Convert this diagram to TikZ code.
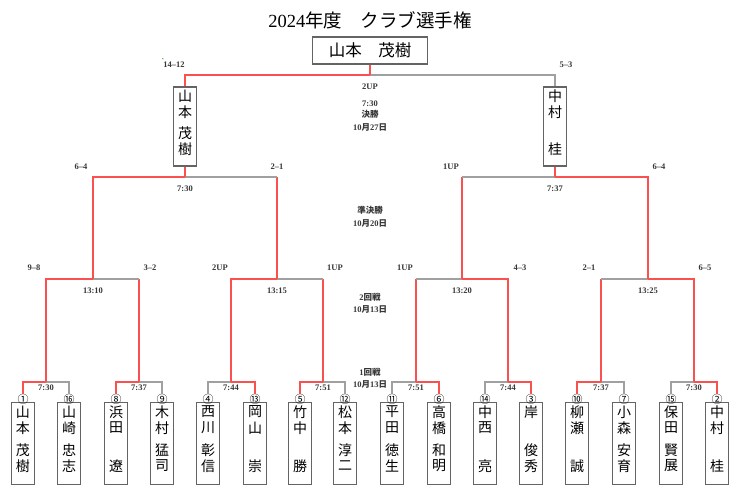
\documentclass[tikz,border=0pt]{standalone}
\usepackage{fontspec}
\setmainfont{Liberation Serif}
\newfontfamily\cjk{Noto Sans CJK JP}
\definecolor{winred}{RGB}{250,80,80}
\definecolor{losegray}{RGB}{160,160,160}
\definecolor{boxgray}{RGB}{100,100,100}
\definecolor{txt}{RGB}{55,55,55}
\begin{document}
\begin{tikzpicture}[x=1pt,y=-1pt,
  win/.style={draw=winred,line width=1.2pt},
  lose/.style={draw=losegray,line width=1.2pt},
  namebox/.style={draw=boxgray,line width=1.2pt,minimum width=23pt,minimum height=82pt,inner sep=0pt},
  finbox/.style={draw=boxgray,line width=1.2pt,minimum width=23pt,minimum height=79pt,inner sep=0pt},
  champbox/.style={draw=boxgray,line width=1.2pt,minimum width=115pt,minimum height=27pt,inner sep=0pt,font=\cjk\fontsize{16.5}{17}\selectfont},
  ch/.style={font=\cjk\fontsize{14}{14}\selectfont,text=black,inner sep=0pt},
  circ/.style={font=\cjk\fontsize{11}{11}\selectfont,text=black,inner sep=0pt,minimum height=9pt},
  lbl/.style={font=\bfseries\fontsize{8.5}{9}\selectfont,text=txt,inner sep=0pt},
  titlestyle/.style={font=\fontsize{18.5}{20}\selectfont,text=black,inner sep=0pt}
]
\useasboundingbox (0,0) rectangle (750,495);

% title and champion
\node[titlestyle] (title) at (370,20) {2024{\cjk 年度　クラブ選手権}};
\node[champbox] (champ) at (370,50.5) {山本　茂樹};
\draw[green!60!black,line width=0.8pt] (162.5,58.3) -- (163.3,59.2);

% first round players
\foreach \i/\px/\num/\a/\b/\c/\d in {
  0/23/①/山/本/茂/樹, 1/69/⑯/山/崎/忠/志, 2/116/⑧/浜/田//遼, 3/162/⑨/木/村/猛/司,
  4/208/④/西/川/彰/信, 5/255/⑬/岡/山//崇, 6/300/⑤/竹/中//勝, 7/345/⑫/松/本/淳/二,
  8/392/⑪/平/田/徳/生, 9/439/⑥/高/橋/和/明, 10/485/⑭/中/西//亮, 11/531/③/岸//俊/秀,
  12/577/⑩/柳/瀬//誠, 13/624/⑦/小/森/安/育, 14/671/⑮/保/田/賢/展, 15/717/②/中/村//桂}{
  \node[namebox] (p\i) at (\px,443.5) {};
  \node[ch] (p\i-a) at (\px,412) {\a};
  \node[ch] (p\i-b) at (\px,428) {\b};
  \node[ch] (p\i-c) at (\px,450) {\c};
  \node[ch] (p\i-d) at (\px,466) {\d};
  \node[circ] (n\i) at (\px,399) {\num};
}

% first-round junctions
\foreach \j/\mx in {0/46, 1/139, 2/231, 3/323, 4/416, 5/508, 6/601, 7/694}{
  \coordinate (m\j) at (\mx,382);
}
% winners / losers of round 1
\foreach \w/\l/\j in {0/1/0, 2/3/1, 5/4/2, 6/7/3, 9/8/4, 11/10/5, 12/13/6, 15/14/7}{
  \draw[lose] (n\l.north) |- (m\j);
  \draw[win] (n\w.north) |- (m\j);
}

% second-round junctions
\coordinate (q0) at (93,279);
\coordinate (q1) at (277,279);
\coordinate (q2) at (462,279);
\coordinate (q3) at (648,279);
\foreach \w/\l/\k in {0/1/0, 2/3/1, 5/4/2, 7/6/3}{
  \draw[win] (m\l) -- (m\l |- q\k);
  \draw[lose] (m\l |- q\k) -- (q\k);
  \draw[win] (m\w) |- (q\k);
}

% semifinal junctions
\coordinate (s0) at (185,177);
\coordinate (s1) at (555,177);
\draw[win] (q1) -- (q1 |- s0);
\draw[lose] (q1 |- s0) -- (s0);
\draw[win] (q0) |- (s0);
\draw[win] (q2) -- (q2 |- s1);
\draw[lose] (q2 |- s1) -- (s1);
\draw[win] (q3) |- (s1);

% finalists
\node[finbox] (f0) at (185,126.5) {};
\node[ch] (f0-a) at (185,96) {山};
\node[ch] (f0-b) at (185,112) {本};
\node[ch] (f0-c) at (185,133) {茂};
\node[ch] (f0-d) at (185,149) {樹};
\node[finbox] (f1) at (555,126.5) {};
\node[ch] (f1-a) at (555,96) {中};
\node[ch] (f1-b) at (555,112) {村};
\node[ch] (f1-d) at (555,149) {桂};
\draw[win] (s0) -- (f0.south);
\draw[win] (s1) -- (f1.south);

% final
\coordinate (fin) at (370,75);
\draw[lose] (f1.north) |- (fin);
\draw[win] (f0.north) |- (fin);
\draw[win] (fin) -- (champ.south -| fin);

% final labels
\node[lbl] (sc1) at (174,65) {14--12};
\node[lbl] (sc2) at (566,65) {5--3};
\node[lbl] (fres) at (370,87) {2UP};
\node[lbl] (ftime) at (370,104) {7:30};
\node[lbl] (fname) at (370,114.5) {\cjk 決勝};
\node[lbl] (fdate) at (370,127) {10{\cjk 月}27{\cjk 日}};

% semifinal labels
\node[lbl] (sc3) at (81,167) {6--4};
\node[lbl] (sc4) at (277,167) {2--1};
\node[lbl] (sc5) at (451,167) {1UP};
\node[lbl] (sc6) at (659,167) {6--4};
\node[lbl] (st1) at (185,189) {7:30};
\node[lbl] (st2) at (555,189) {7:37};
\node[lbl] (sname) at (370,210.5) {\cjk 準決勝};
\node[lbl] (sdate) at (370,223) {10{\cjk 月}20{\cjk 日}};

% second round labels
\node[lbl] (sc7) at (34,268) {9--8};
\node[lbl] (sc8) at (150,268) {3--2};
\node[lbl] (sc9) at (220,268) {2UP};
\node[lbl] (sc10) at (335,268) {1UP};
\node[lbl] (sc11) at (405,268) {1UP};
\node[lbl] (sc12) at (520,268) {4--3};
\node[lbl] (sc13) at (589,268) {2--1};
\node[lbl] (sc14) at (705,268) {6--5};
\node[lbl] (qt0) at (93,291) {13:10};
\node[lbl] (qt1) at (277,291) {13:15};
\node[lbl] (qt2) at (462,291) {13:20};
\node[lbl] (qt3) at (648,291) {13:25};
\node[lbl] (qname) at (370,297) {2{\cjk 回戦}};
\node[lbl] (qdate) at (370,309) {10{\cjk 月}13{\cjk 日}};

% first round labels
\foreach \j/\t in {0/7:30, 1/7:37, 2/7:44, 3/7:51, 4/7:51, 5/7:44, 6/7:37, 7/7:30}{
  \node[lbl] (mt\j) at ([yshift=-6pt]m\j) {\t};
}
\node[lbl] (rname) at (370,372) {1{\cjk 回戦}};
\node[lbl] (rdate) at (370,384) {10{\cjk 月}13{\cjk 日}};
\end{tikzpicture}
\end{document}
